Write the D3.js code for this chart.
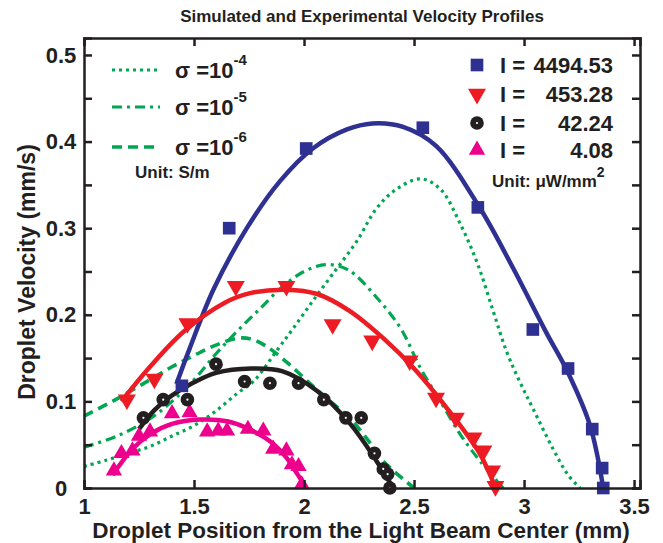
<!DOCTYPE html>
<html>
<head>
<meta charset="utf-8">
<script src="https://cdn.jsdelivr.net/npm/d3@7"></script>
<style>
  body { margin: 0; background: #fff; }
  svg text { font-family: "Liberation Sans", Arial, Helvetica, sans-serif; font-weight: bold; fill: #231f20; }
</style>
</head>
<body>
<div class="chart"></div>
<script>
var width = 663, height = 543;
var margin = ({top: 38, right: 23, bottom: 55, left: 84});

// tick values
var xTicks = [1, 1.5, 2, 2.5, 3, 3.5];
var yTicks = [0, 0.05, 0.1, 0.15, 0.2, 0.25, 0.3, 0.35, 0.4, 0.45, 0.5];
var yLabels = ["0", "", "0.1", "", "0.2", "", "0.3", "", "0.4", "", "0.5"];

// measured points (position mm, velocity mm/s)
var blueData = [[1.445,0.118],[1.66,0.30],[2.01,0.392],[2.54,0.416],[2.79,0.324],[3.04,0.183],[3.2,0.138],[3.31,0.068],[3.355,0.023],[3.36,0.0]];
var redData = [[1.195,0.102],[1.32,0.126],[1.47,0.19],[1.69,0.233],[1.92,0.233],[2.13,0.189],[2.31,0.17],[2.48,0.147],[2.6,0.104],[2.69,0.081],[2.77,0.058],[2.815,0.043],[2.855,0.02],[2.87,0.002]];
var blackData = [[1.27,0.081],[1.36,0.102],[1.47,0.102],[1.6,0.143],[1.73,0.123],[1.845,0.121],[1.975,0.121],[2.09,0.102],[2.19,0.081],[2.26,0.081],[2.32,0.04],[2.36,0.022],[2.38,0.016],[2.39,0.0]];
var magentaData = [[1.136,0.02],[1.17,0.04],[1.22,0.043],[1.25,0.06],[1.3,0.065],[1.4,0.086],[1.48,0.087],[1.56,0.065],[1.61,0.066],[1.65,0.066],[1.745,0.068],[1.815,0.066],[1.86,0.045],[1.92,0.043],[1.945,0.027],[1.975,0.025],[1.99,0.004]];

// fitted curves
var blueFit = [[1.42,0.12],[1.48,0.161],[1.59,0.23],[1.74,0.30],[1.89,0.354],[2.04,0.392],[2.195,0.414],[2.31,0.421],[2.45,0.417],[2.6,0.395],[2.8,0.323],[2.95,0.254],[3.1,0.18],[3.2,0.133],[3.3,0.072],[3.36,0.0]];
var redFit = [[1.17,0.1],[1.3,0.14],[1.455,0.181],[1.64,0.214],[1.755,0.225],[1.92,0.229],[2.06,0.224],[2.21,0.204],[2.36,0.173],[2.5,0.138],[2.65,0.092],[2.8,0.039],[2.87,0.0]];
var blackFit = [[1.25,0.068],[1.32,0.09],[1.395,0.106],[1.5,0.122],[1.6,0.133],[1.76,0.138],[1.9,0.135],[2.06,0.112],[2.21,0.074],[2.33,0.031],[2.405,0.0]];
var magentaFit = [[1.13,0.015],[1.22,0.045],[1.3,0.062],[1.4,0.074],[1.527,0.079],[1.65,0.077],[1.75,0.068],[1.85,0.053],[1.92,0.035],[1.97,0.016],[2.01,0.0]];

// simulated curves
var sim4 = [[1.0,0.025],[1.1,0.032],[1.2,0.04],[1.3,0.048],[1.4,0.06],[1.5,0.072],[1.6,0.089],[1.7,0.11],[1.77,0.123],[1.88,0.16],[1.95,0.184],[2.04,0.216],[2.13,0.247],[2.24,0.285],[2.33,0.323],[2.42,0.345],[2.53,0.357],[2.62,0.345],[2.71,0.305],[2.79,0.258],[2.86,0.204],[2.92,0.158],[2.98,0.123],[3.04,0.092],[3.13,0.046],[3.2,0.015],[3.255,0.0]];
var sim5 = [[1.0,0.047],[1.15,0.06],[1.3,0.08],[1.4,0.1],[1.5,0.125],[1.6,0.155],[1.7,0.182],[1.8,0.207],[1.9,0.232],[2.0,0.25],[2.1,0.258],[2.2,0.252],[2.33,0.22],[2.44,0.184],[2.53,0.138],[2.62,0.1],[2.71,0.062],[2.8,0.031],[2.905,0.0]];
var sim6 = [[1.0,0.083],[1.15,0.103],[1.3,0.125],[1.4,0.14],[1.5,0.153],[1.6,0.165],[1.7,0.173],[1.76,0.172],[1.82,0.165],[1.9,0.15],[2.03,0.12],[2.1,0.104],[2.21,0.08],[2.3,0.052],[2.36,0.031],[2.5,0.0]];

var simLabels = ["-4", "-5", "-6"];
var intensityLabels = ["4494.53", "453.28", "42.24", "4.08"];

var blue = "#2e3192", red = "#ed1c24", black = "#231f20", magenta = "#ec008c", green = "#00a651";

var svg = d3.select(".chart")
  .append("svg")
    .attr("width", width)
    .attr("height", height);

var x = d3.scaleLinear()
  .domain([1, 3.527])
  .range([margin.left, width - margin.right]);

var y = d3.scaleLinear()
  .domain([0, 0.5196])
  .range([height - margin.bottom, margin.top]);

// title
svg.append("text")
  .attr("x", 362).attr("y", 22)
  .attr("text-anchor", "middle")
  .style("font-size", "17px")
  .text("Simulated and Experimental Velocity Profiles");

// simulated curves
var line = d3.line()
  .x(d => x(d[0]))
  .y(d => y(d[1]))
  .curve(d3.curveCatmullRom.alpha(0.5));

var sims = [
  {data: sim4, dash: "3,4", w: 3.2},
  {data: sim5, dash: "10,5,3,5", w: 3.2},
  {data: sim6, dash: "10,6", w: 3.6}
];
sims.forEach(s => {
  svg.append("path")
    .attr("d", line(s.data))
    .attr("fill", "none")
    .attr("stroke", green)
    .attr("stroke-width", s.w)
    .attr("stroke-dasharray", s.dash);
});

// fits
var fits = [
  {data: blueFit, color: blue},
  {data: redFit, color: red},
  {data: blackFit, color: black},
  {data: magentaFit, color: magenta}
];
fits.forEach(f => {
  svg.append("path")
    .attr("d", line(f.data))
    .attr("fill", "none")
    .attr("stroke", f.color)
    .attr("stroke-width", 4.5);
});

// markers
var square = d3.symbol(d3.symbolSquare, 160);
var triRed = d3.symbol(d3.symbolTriangle, 140);
var triMag = d3.symbol(d3.symbolTriangle, 115);

function drawSquares(g, data) {
  g.selectAll(null).data(data).join("path")
    .attr("d", square)
    .attr("transform", d => `translate(${x(d[0])},${y(d[1])})`)
    .attr("fill", blue);
}
function drawTri(g, data, sym, color, down) {
  g.selectAll(null).data(data).join("path")
    .attr("d", sym)
    .attr("transform", d => `translate(${x(d[0])},${y(d[1])})` + (down ? " rotate(180)" : ""))
    .attr("fill", color);
}
function drawCircles(g, data) {
  g.selectAll(null).data(data).join("circle")
    .attr("cx", d => x(d[0])).attr("cy", d => y(d[1]))
    .attr("r", 6.8).attr("fill", black);
  g.selectAll(null).data(data).join("circle")
    .attr("cx", d => x(d[0])).attr("cy", d => y(d[1]))
    .attr("r", 1.1).attr("fill", "#fff");
}

var marks = svg.append("g");
drawTri(marks.append("g"), magentaData, triMag, magenta, false);
drawCircles(marks.append("g"), blackData);
drawTri(marks.append("g"), redData, triRed, red, true);
drawSquares(marks.append("g"), blueData);

// axes (inward ticks, box)
svg.append("g")
  .attr("transform", `translate(0,${y(0)})`)
  .call(d3.axisBottom(x).tickValues(xTicks).tickSize(-8).tickPadding(10).tickFormat(d3.format("~g")));
var axL = svg.append("g")
  .attr("transform", `translate(${x(1)},0)`)
  .call(d3.axisLeft(y).tickValues(yTicks).tickSize(-8).tickPadding(23)
    .tickFormat((d, i) => yLabels[i]));
svg.append("g")
  .attr("transform", `translate(0,${margin.top})`)
  .call(d3.axisTop(x).tickValues(xTicks).tickSize(-8).tickFormat(""));
svg.append("g")
  .attr("transform", `translate(${width - margin.right},0)`)
  .call(d3.axisRight(y).tickValues(yTicks).tickSize(-8).tickFormat(""));

svg.selectAll(".domain").attr("stroke", black).attr("stroke-width", 2.5);
svg.selectAll(".tick line").attr("stroke", black).attr("stroke-width", 2.5);
svg.selectAll(".tick text")
  .style("font-size", "22px")
  .style("font-family", "'Liberation Sans', Arial, sans-serif")
  .style("font-weight", "bold")
  .attr("fill", black);
axL.selectAll(".tick text").attr("text-anchor", "middle");

// axis labels
svg.append("text")
  .attr("x", 361).attr("y", 538)
  .attr("text-anchor", "middle")
  .style("font-size", "22.5px")
  .text("Droplet Position from the Light Beam Center (mm)");

svg.append("text")
  .attr("transform", "translate(35,272) rotate(-90)")
  .attr("text-anchor", "middle")
  .style("font-size", "23px")
  .text("Droplet Velocity (mm/s)");

// left legend: simulations
var legRowsL = [70, 107, 147];
sims.forEach((s, i) => {
  svg.append("line")
    .attr("x1", 112).attr("x2", 160)
    .attr("y1", legRowsL[i]).attr("y2", legRowsL[i])
    .attr("stroke", green)
    .attr("stroke-width", s.w)
    .attr("stroke-dasharray", s.dash);
  var t = svg.append("text")
    .attr("x", 175).attr("y", legRowsL[i] + 8)
    .style("font-size", "22px")
    .text("\u03c3 =10");
  t.append("tspan")
    .attr("dy", -13)
    .style("font-size", "15px")
    .text(simLabels[i]);
});
svg.append("text")
  .attr("x", 135).attr("y", 178)
  .style("font-size", "17px")
  .text("Unit: S/m");

// right legend: intensities
var legRowsR = [73, 102, 131, 158];
var legG = svg.append("g");
legG.append("path").attr("d", square).attr("transform", `translate(477,${legRowsR[0] - 8})`).attr("fill", blue);
legG.append("path").attr("d", triRed).attr("transform", `translate(477,${legRowsR[1] - 8}) rotate(180)`).attr("fill", red);
legG.append("circle").attr("cx", 477).attr("cy", legRowsR[2] - 8).attr("r", 6.8).attr("fill", black);
legG.append("circle").attr("cx", 477).attr("cy", legRowsR[2] - 8).attr("r", 1.1).attr("fill", "#fff");
legG.append("path").attr("d", triMag).attr("transform", `translate(477,${legRowsR[3] - 8})`).attr("fill", magenta);

intensityLabels.forEach((lab, i) => {
  legG.append("text")
    .attr("x", 500).attr("y", legRowsR[i])
    .style("font-size", "22px")
    .text("I =");
  legG.append("text")
    .attr("x", 613).attr("y", legRowsR[i])
    .attr("text-anchor", "end")
    .style("font-size", "22px")
    .text(lab);
});
var u = legG.append("text")
  .attr("x", 492).attr("y", 187)
  .style("font-size", "17px")
  .text("Unit: \u03bcW/mm");
u.append("tspan")
  .attr("dy", -10)
  .style("font-size", "14px")
  .text("2");
</script>
</body>
</html>
